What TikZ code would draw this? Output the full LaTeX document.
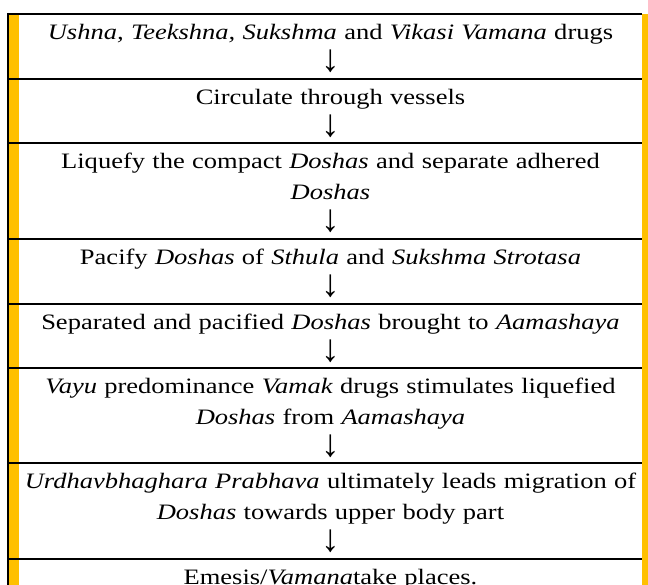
\documentclass[tikz,border=0pt]{standalone}
\usepackage{graphicx}
\usepackage{fontspec}
\setmainfont{Liberation Serif}[FakeStretch=1.205]
\definecolor{gold}{HTML}{FFC000}
\newcommand\darr{\smash{\raisebox{-1pt}{\scalebox{1.4}[1.75]{↓}}}}
\begin{document}
\begin{tikzpicture}[x=1pt,y=-1pt,
  cell/.style={anchor=north, inner sep=0pt, text width=640pt, align=center,
    font=\fontsize{22}{31}\selectfont},
  rule/.style={line width=2pt, black}]
\useasboundingbox (0,0) rectangle (648,585);
\clip (0,0) rectangle (648,585);
\fill[white] (0,0) rectangle (648,585);
\fill[gold] (9,14) rectangle (19,590);
\foreach \yy in {14,79,143,239,304,368,463,559}
  \draw[rule] (7,\yy) -- (642,\yy);
\draw[line width=2.5pt] (8,13) -- (8,590);
\fill[gold] (642,14) rectangle (648,590);
\node[cell] (r1) at (330.5,17.3) {\strut\textit{Ushna, Teekshna, Sukshma} and \textit{Vikasi Vamana} drugs\\ \darr};
\node[cell] (r2) at (330.5,82.3) {\strut Circulate through vessels\\ \darr};
\node[cell] (r3) at (330.5,146.3) {\strut Liquefy the compact \textit{Doshas} and separate adhered\\ \textit{Doshas}\\ \darr};
\node[cell] (r4) at (330.5,242.3) {\strut Pacify \textit{Doshas} of \textit{Sthula} and \textit{Sukshma Strotasa}\\ \darr};
\node[cell] (r5) at (330.5,307.3) {\strut Separated and pacified \textit{Doshas} brought to \textit{Aamashaya}\\ \darr};
\node[cell] (r6) at (330.5,371.3) {\strut\textit{Vayu} predominance \textit{Vamak} drugs stimulates liquefied\\ \textit{Doshas} from \textit{Aamashaya}\\ \darr};
\node[cell] (r7) at (330.5,466.3) {\strut\textit{Urdhavbhaghara Prabhava} ultimately leads migration of\\ \textit{Doshas} towards upper body part\\ \darr};
\node[cell] (r8) at (330.5,562.3) {\strut Emesis/\textit{Vamana}take places.};
\end{tikzpicture}
\end{document}
